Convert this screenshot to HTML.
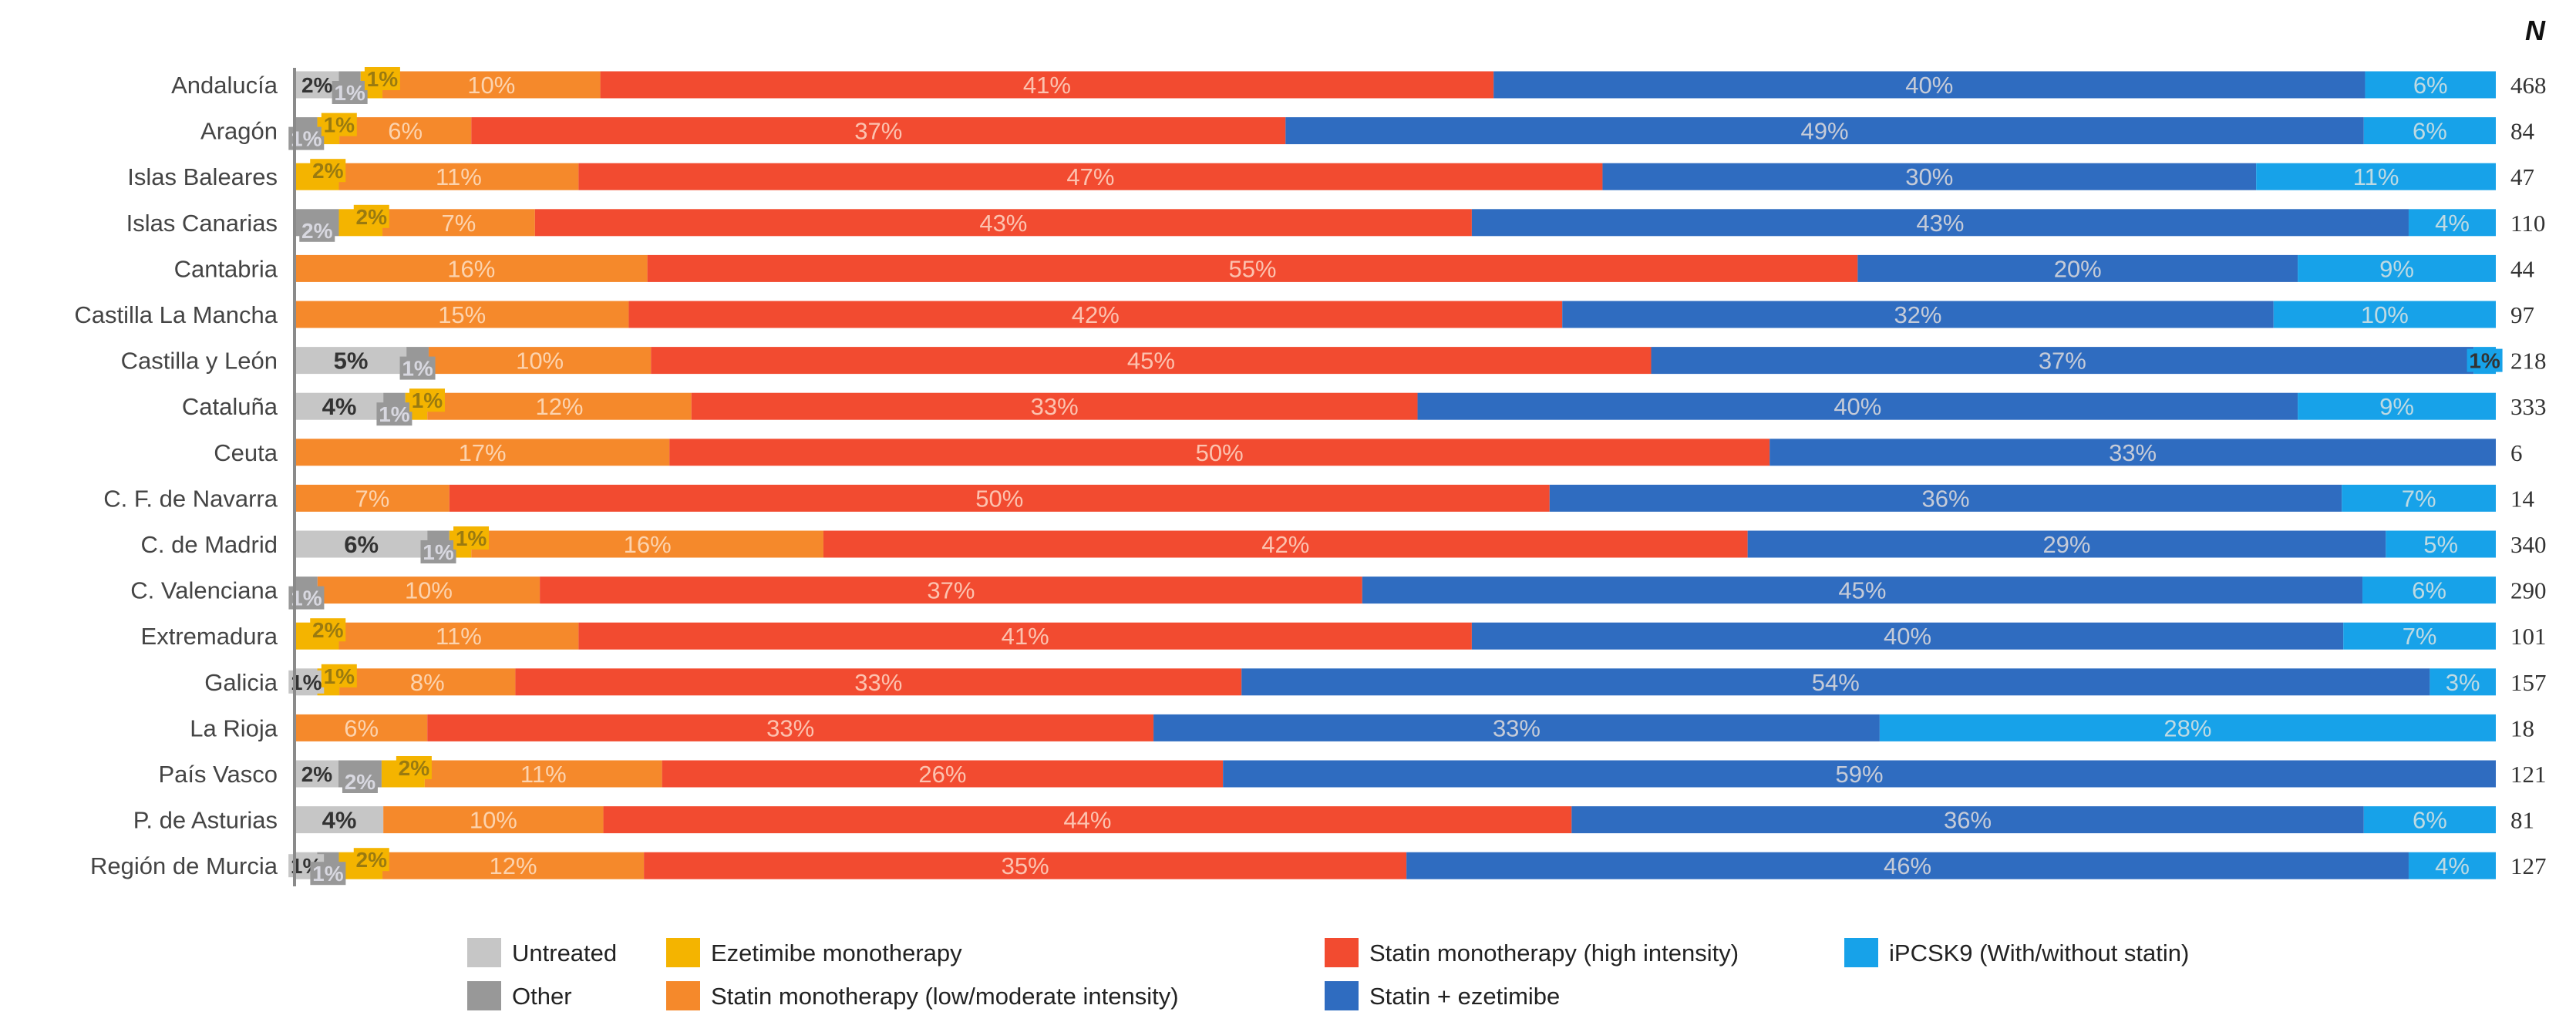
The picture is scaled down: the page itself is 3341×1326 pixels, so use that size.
<!DOCTYPE html>
<html><head><meta charset="utf-8"><style>
html,body{margin:0;padding:0;background:#fff;}
svg{display:block;font-family:"Liberation Sans",Arial,sans-serif;}
</style></head><body>
<svg id="chart" width="3341" height="1326" viewBox="0 0 3341 1326" xmlns="http://www.w3.org/2000/svg">
<g id="bars"></g>
<g id="labels"></g>
<g id="ncol"></g>
<text x="3288" y="52" font-size="36" font-style="italic" font-weight="bold" fill="#111" text-anchor="middle">N</text>
<line x1="382" y1="88" x2="382" y2="1150" stroke="#8a8a8a" stroke-width="4"/>
<g id="legend"></g>
</svg>
<script>
const regions = ["Andalucía","Aragón","Islas Baleares","Islas Canarias","Cantabria","Castilla La Mancha","Castilla y León","Cataluña","Ceuta","C. F. de Navarra","C. de Madrid","C. Valenciana","Extremadura","Galicia","La Rioja","País Vasco","P. de Asturias","Región de Murcia"];
const nValues = [468,84,47,110,44,97,218,333,6,14,340,290,101,157,18,121,81,127];
const untreated = [2,0,0,0,0,0,5,4,0,0,6,0,0,1,0,2,4,1];
const other     = [1,1,0,2,0,0,1,1,0,0,1,1,0,0,0,2,0,1];
const ezetimibe = [1,1,2,2,0,0,0,1,0,0,1,0,2,1,0,2,0,2];
const statinLow = [10,6,11,7,16,15,10,12,17,7,16,10,11,8,6,11,10,12];
const statinHigh= [41,37,47,43,55,42,45,33,50,50,42,37,41,33,33,26,44,35];
const statinEze = [40,49,30,43,20,32,37,40,33,36,29,45,40,54,33,59,36,46];
const ipcsk9    = [6,6,11,4,9,10,1,9,0,7,5,6,7,3,28,0,6,4];
const seriesNames = ["Untreated","Other","Ezetimibe monotherapy","Statin monotherapy (low/moderate intensity)","Statin monotherapy (high intensity)","Statin + ezetimibe","iPCSK9 (With/without statin)"];
const series = [untreated,other,ezetimibe,statinLow,statinHigh,statinEze,ipcsk9];
const colors = ["#c6c6c6","#989898","#f4b400","#f5892b","#f24b30","#2f6cc0","#17a2e9"];
const keys = ["untreated","other","ezetimibe","statin-low","statin-high","statin-ezetimibe","ipcsk9"];
const NS="http://www.w3.org/2000/svg";
const X0=383, X1=3237, Y0=110, PITCH=59.6, BH=35;
function yC(i){return Y0+i*PITCH;}
function xS(frac){return X0+frac*(X1-X0);}
function mk(tag,attrs,parent){const e=document.createElementNS(NS,tag);for(const k in attrs)e.setAttribute(k,attrs[k]);parent.appendChild(e);return e;}
const gb=document.getElementById('bars'), gl=document.getElementById('labels'), gn=document.getElementById('ncol'), gL=document.getElementById('legend');
const smalls=[];
regions.forEach((r,i)=>{
  let tot=0; series.forEach(s=>tot+=s[i]);
  let acc=0; const cy=yC(i);
  series.forEach((s,k)=>{
    const v=s[i]; if(v<=0){return;}
    const xa=xS(acc/tot), xb=xS((acc+v)/tot); acc+=v;
    const rc=mk('rect',{x:xa,y:cy-BH/2,width:xb-xa,height:BH,fill:colors[k]},gb);
    
    
    if(v>=3){
      const isGrey=k<2;
      const t=mk('text',{x:(xa+xb)/2,y:cy+11,'font-size':31,'text-anchor':'middle',fill:isGrey?'#333':'rgba(255,240,225,0.72)','font-weight':isGrey?'bold':'normal'},gb);
      t.textContent=v+'%';
      
      
    } else {
      smalls.push({x:(xa+xb)/2,cy:cy,k:k,v:v});
    }
  });
  const lt=mk('text',{x:360,y:cy+11,'font-size':31,'text-anchor':'end',fill:'#444'},gl);
  lt.textContent=r;
  
  
  const nt=mk('text',{x:3256,y:cy+11,'font-size':31,fill:'#333','font-family':'"Liberation Serif",serif'},gn);
  nt.textContent=nValues[i];
  
  
});
smalls.forEach(s=>{
  const dy = s.k===1 ? 10 : (s.k===2 ? -8 : 0);
  const bw=46,bh=30;
  const r=mk('rect',{x:s.x-bw/2+(s.k===2?14:0),y:s.cy-bh/2+dy,width:bw,height:bh,fill:colors[s.k]},gb);
  
  
  const t=mk('text',{x:s.x+(s.k===2?14:0),y:s.cy+dy+10,'font-size':28,'text-anchor':'middle','font-weight':'bold',fill:s.k===2?'#9a7a10':(s.k===1?'#d8d8e0':'#333')},gb);
  t.textContent=s.v+'%';
  
  
});
const legPos=[[606,1236],[606,1292],[864,1236],[864,1292],[1718,1236],[1718,1292],[2392,1236]];
seriesNames.forEach((nm,k)=>{
  const [lx,ly]=legPos[k];
  const g=mk('g',{},gL);
  
  
  mk('rect',{x:lx,y:ly-19,width:44,height:38,fill:colors[k]},g);
  const t=mk('text',{x:lx+58,y:ly+11,'font-size':31,fill:'#222'},g);
  t.textContent=nm;
});
</script>
</body></html>
